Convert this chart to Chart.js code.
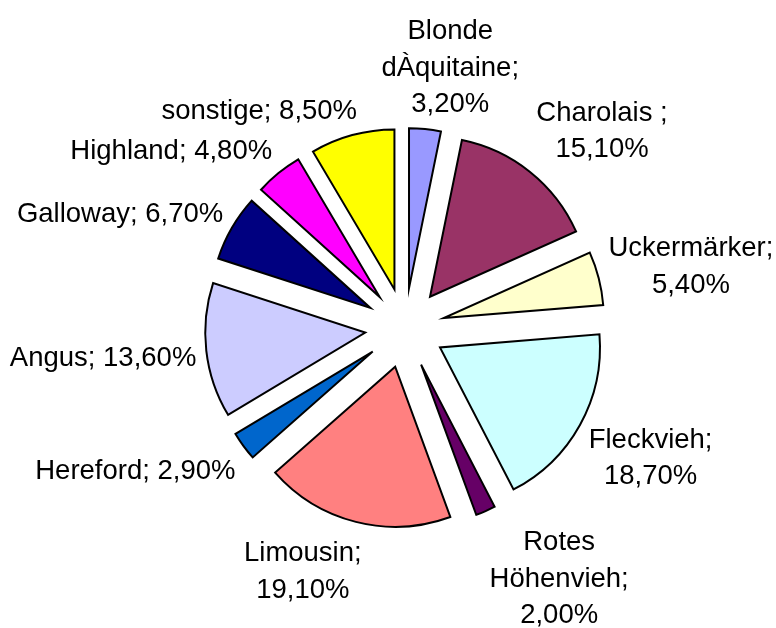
<!DOCTYPE html>
<html>
<head>
<meta charset="utf-8">
<script src="https://cdn.jsdelivr.net/npm/chart.js@4.4.0/dist/chart.umd.min.js"></script>
<style>
  html, body { margin: 0; padding: 0; background: #fff; }
  #wrap { width: 776px; height: 628px; }
</style>
</head>
<body>
<div id="wrap"><canvas id="rassen" width="776" height="628"></canvas></div>
<script>
// Rinderrassen, Anteile in Prozent (im Uhrzeigersinn ab 12 Uhr)
var rassen = ['Blonde dÀquitaine', 'Charolais ', 'Uckermärker', 'Fleckvieh', 'Rotes Höhenvieh',
              'Limousin', 'Hereford', 'Angus', 'Galloway', 'Highland', 'sonstige'];
var anteile = [3.2, 15.1, 5.4, 18.7, 2.0, 19.1, 2.9, 13.6, 6.7, 4.8, 8.5];
var farben = ['#9999FF', '#993366', '#FFFFCC', '#CCFFFF', '#660066', '#FF8080',
              '#0066CC', '#CCCCFF', '#000080', '#FF00FF', '#FFFF00'];

var ABSTAND = 40;      // wie weit die Stuecke herausgezogen werden
var RADIUS = 160;
var SCHRIFT = '27.5px "Liberation Sans", Arial, sans-serif';
var ZEILE = 36.5;
var UMBRUCH = 210;     // max. Breite einer Beschriftungszeile

function prozent(v){
    return v.toFixed(2).replace('.', ',') + '%';
}

function umbrechen(ctx, text){
    var worte = text.split(' ');
    var zeilen = [];
    var aktuell = worte[0];
    for(var i = 1; i < worte.length; i++){
        var test = aktuell + ' ' + worte[i];
        if(ctx.measureText(test).width > UMBRUCH){
            zeilen.push(aktuell);
            aktuell = worte[i];
        }else{
            aktuell = test;
        }
    }
    zeilen.push(aktuell);
    return zeilen;
}

// jedes Stueck um ABSTAND vom Mittelpunkt wegschieben
var explodePlugin = {
    id: 'explode',
    afterDatasetsUpdate: function(chart){
        chart.getDatasetMeta(0).data.forEach(function(arc){
            var mitte = (arc.startAngle + arc.endAngle) / 2;
            arc.x += Math.cos(mitte) * ABSTAND;
            arc.y += Math.sin(mitte) * ABSTAND;
        });
    }
};

// Beschriftung "Name; xx,xx%" ausserhalb der Stuecke
var labelPlugin = {
    id: 'beschriftung',
    afterDatasetsDraw: function(chart){
        var ctx = chart.ctx;
        ctx.save();
        ctx.font = SCHRIFT;
        ctx.fillStyle = '#000';
        ctx.textAlign = 'center';
        ctx.textBaseline = 'middle';
        chart.getDatasetMeta(0).data.forEach(function(arc, i){
            var zeilen = umbrechen(ctx, rassen[i] + '; ' + prozent(anteile[i]));
            var breite = 0;
            zeilen.forEach(function(z){ breite = Math.max(breite, ctx.measureText(z).width); });
            var hoehe = zeilen.length * ZEILE;

            var mitte = (arc.startAngle + arc.endAngle) / 2;
            var cx = Math.cos(mitte), cy = Math.sin(mitte);
            var r = arc.outerRadius + 10;
            var ax = arc.x + cx * r, ay = arc.y + cy * r;

            // Textblock je nach Richtung neben den Ankerpunkt setzen
            var fx = Math.max(-1, Math.min(1, 3.5 * cx));
            var fy = Math.max(-1, Math.min(1, 1.4 * cy));
            var mx = ax + fx * breite / 2;
            var my = ay + fy * hoehe / 2 + 4;

            var oben = Math.max(my - hoehe / 2, 4);
            zeilen.forEach(function(z, k){
                ctx.fillText(z, mx, oben + ZEILE * (k + 0.5));
            });
        });
        ctx.restore();
    }
};

var chart = new Chart(document.getElementById('rassen').getContext('2d'), {
    type: 'pie',
    data: {
        labels: rassen,
        datasets: [{
            data: anteile,
            backgroundColor: farben,
            borderColor: '#000',
            borderWidth: 2,
            borderJoinStyle: 'miter'
        }]
    },
    options: {
        responsive: false,
        animation: false,
        events: [],
        radius: RADIUS,
        layout: { padding: { left: 120, right: 86, top: 112, bottom: 84 } },
        plugins: {
            legend: { display: false },
            tooltip: { enabled: false }
        }
    },
    plugins: [explodePlugin, labelPlugin]
});
</script>
</body>
</html>
